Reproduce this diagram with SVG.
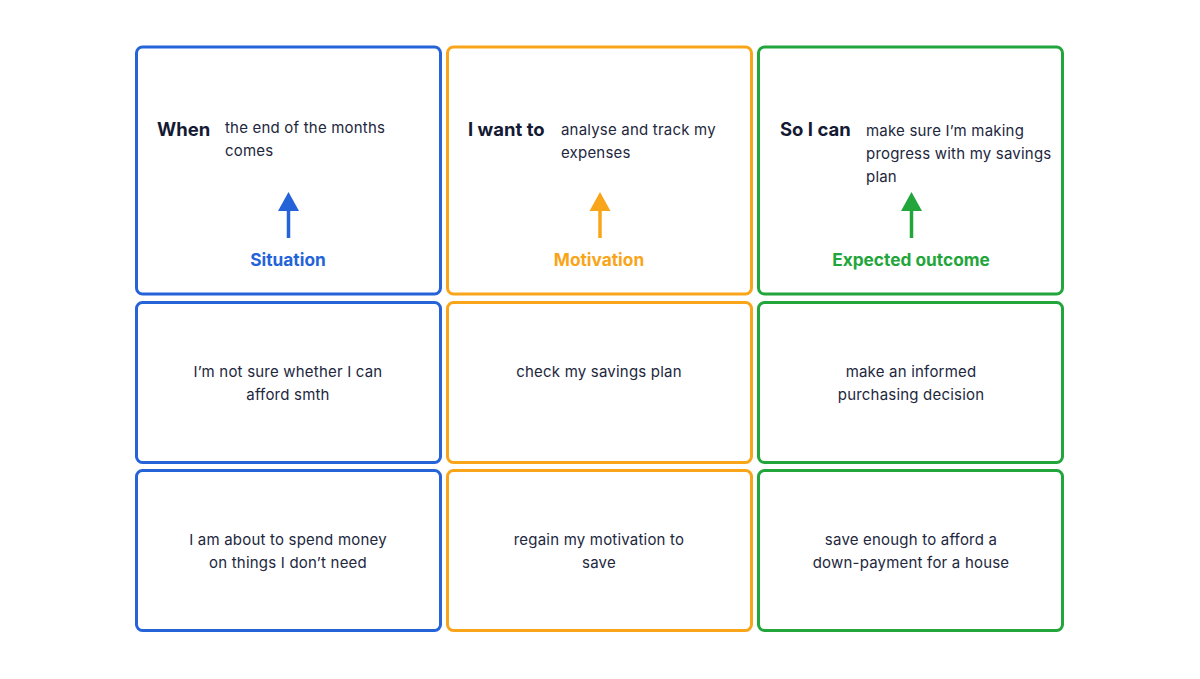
<svg xmlns="http://www.w3.org/2000/svg" width="1200" height="679" viewBox="0 0 1200 679">
<style>
.box{fill:#fff;stroke-width:3}
.b{stroke:#2563d9}.o{stroke:#f9a51a}.g{stroke:#22a63c}
.t{font-family:Inter,"Noto Sans",sans-serif;font-size:15px;letter-spacing:0.2px;fill:#22273d}
.h{font-family:Inter,"Noto Sans",sans-serif;font-size:18.5px;font-weight:700;fill:#141a33}
.l{font-family:Inter,"Noto Sans",sans-serif;font-size:17.3px;font-weight:700;text-anchor:middle}
.c{text-anchor:middle}
</style>
<rect width="1200" height="679" fill="#fff"/>
<g id="situation-header">
<rect class="box b" x="136.5" y="47" width="304" height="247" rx="6"/>
<text class="h" x="157" y="136">When</text>
<text class="t" x="225" y="133">the end of the months</text>
<text class="t" x="225" y="156">comes</text>
<text class="l" x="288" y="266" fill="#2563d9">Situation</text>
</g>
<g id="motivation-header">
<rect class="box o" x="447.5" y="47" width="304" height="247" rx="6"/>
<text class="h" x="468" y="136">I want to</text>
<text class="t" x="561" y="135">analyse and track my</text>
<text class="t" x="561" y="158">expenses</text>
<text class="l" x="599" y="266" fill="#f9a51a">Motivation</text>
</g>
<g id="outcome-header">
<rect class="box g" x="758.5" y="47" width="304" height="247" rx="6"/>
<text class="h" x="780" y="136">So I can</text>
<text class="t" x="866" y="136">make sure I’m making</text>
<text class="t" x="866" y="159">progress with my savings</text>
<text class="t" x="866" y="182">plan</text>
<text class="l" x="911" y="266" fill="#22a63c">Expected outcome</text>
</g>
<g id="situation-2">
<rect class="box b" x="136.5" y="302.5" width="304" height="160" rx="6"/>
<text class="t c" x="288" y="377">I’m not sure whether I can</text>
<text class="t c" x="288" y="400">afford smth</text>
</g>
<g id="motivation-2">
<rect class="box o" x="447.5" y="302.5" width="304" height="160" rx="6"/>
<text class="t c" x="599" y="377">check my savings plan</text>
</g>
<g id="outcome-2">
<rect class="box g" x="758.5" y="302.5" width="304" height="160" rx="6"/>
<text class="t c" x="911" y="377">make an informed</text>
<text class="t c" x="911" y="400">purchasing decision</text>
</g>
<g id="situation-3">
<rect class="box b" x="136.5" y="470.5" width="304" height="160" rx="6"/>
<text class="t c" x="288" y="545">I am about to spend money</text>
<text class="t c" x="288" y="568">on things I don’t need</text>
</g>
<g id="motivation-3">
<rect class="box o" x="447.5" y="470.5" width="304" height="160" rx="6"/>
<text class="t c" x="599" y="545">regain my motivation to</text>
<text class="t c" x="599" y="568">save</text>
</g>
<g id="outcome-3">
<rect class="box g" x="758.5" y="470.5" width="304" height="160" rx="6"/>
<text class="t c" x="911" y="545">save enough to afford a</text>
<text class="t c" x="911" y="568">down-payment for a house</text>
</g>
<g id="connectors">
<line x1="288.5" y1="238" x2="288.5" y2="208" stroke="#2563d9" stroke-width="3.5"/>
<polygon points="288.5,192 278,211 299,211" fill="#2563d9"/>
<line x1="600" y1="238" x2="600" y2="208" stroke="#f9a51a" stroke-width="3.5"/>
<polygon points="600,192 589.5,211 610.5,211" fill="#f9a51a"/>
<line x1="911.5" y1="238" x2="911.5" y2="208" stroke="#22a63c" stroke-width="3.5"/>
<polygon points="911.5,192 901,211 922,211" fill="#22a63c"/>
</g>
</svg>
